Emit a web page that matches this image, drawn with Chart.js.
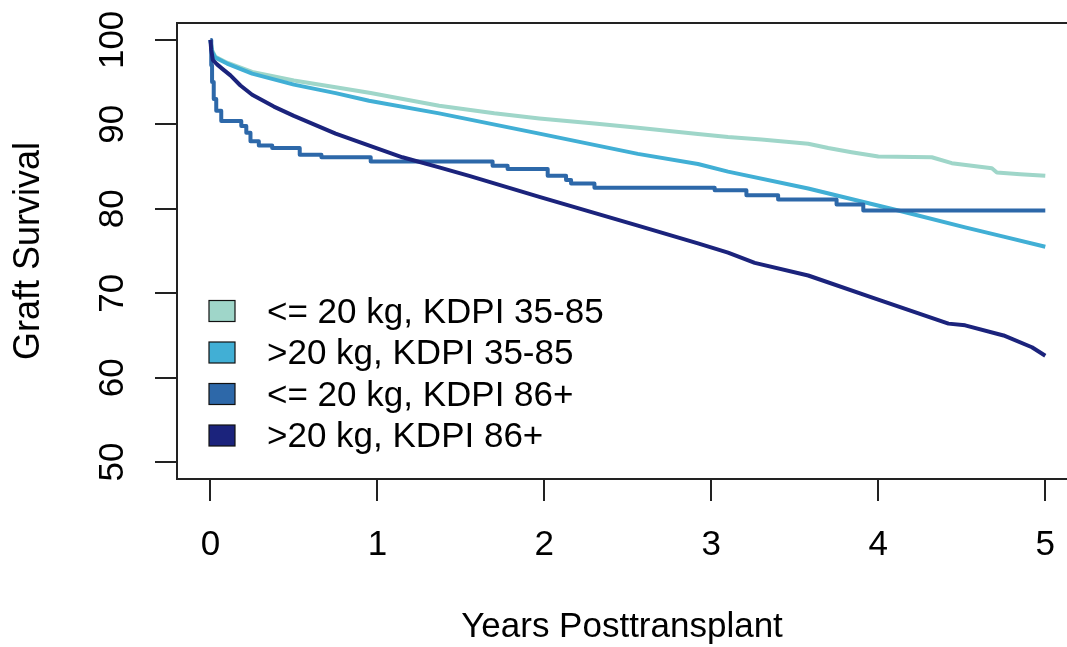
<!DOCTYPE html>
<html>
<head>
<meta charset="utf-8">
<script src="https://cdn.jsdelivr.net/npm/chart.js@4.4.1/dist/chart.umd.min.js"></script>
<style>
  body { margin: 0; background: #fff; overflow: hidden; }
  canvas { display: block; }
</style>
</head>
<body>
<canvas id="km" width="1067" height="647"></canvas>
<script>
// Graft survival curves (years, percent)
const groupNames = ["<= 20 kg, KDPI 35-85", ">20 kg, KDPI 35-85", "<= 20 kg, KDPI 86+", ">20 kg, KDPI 86+"];
const groupColors = ["#9fd6c9", "#41afd5", "#2d68a9", "#1b237c"];

const lightYears = [0, 0.01, 0.03, 0.1, 0.25, 0.5, 0.75, 0.96, 1.37, 1.7, 1.97, 2.3, 2.56, 2.92, 3.1, 3.3, 3.58, 3.7, 3.84, 4.0, 4.32, 4.44, 4.68, 4.71, 4.85, 5.0];
const lightSurv  = [100, 98.8, 98.0, 97.3, 96.2, 95.2, 94.4, 93.7, 92.2, 91.3, 90.7, 90.1, 89.6, 88.85, 88.5, 88.2, 87.7, 87.2, 86.7, 86.2, 86.1, 85.4, 84.8, 84.3, 84.1, 83.9];

const midYears = [0, 0.01, 0.03, 0.1, 0.25, 0.5, 0.75, 0.95, 1.37, 1.97, 2.56, 2.92, 3.1, 3.58, 4.12, 4.52, 4.75, 5.0];
const midSurv  = [100, 98.6, 97.9, 97.2, 96.0, 94.7, 93.7, 92.8, 91.3, 88.9, 86.5, 85.3, 84.4, 82.4, 79.8, 77.8, 76.7, 75.5];

// this one is drawn as steps
const stepYears = [0, 0.005, 0.01, 0.02, 0.035, 0.065, 0.185, 0.215, 0.24, 0.29, 0.37, 0.535, 0.665, 0.96, 1.69, 1.78, 2.02, 2.13, 2.16, 2.3, 3.02, 3.21, 3.4, 3.75, 3.91, 5.0];
const stepSurv  = [100, 97, 95, 93, 91.6, 90.4, 89.8, 89.0, 88.0, 87.5, 87.2, 86.4, 86.1, 85.6, 85.1, 84.7, 83.9, 83.4, 83.0, 82.5, 82.2, 81.6, 81.1, 80.5, 79.8, 79.8];

const darkYears = [0, 0.005, 0.015, 0.04, 0.07, 0.12, 0.18, 0.25, 0.38, 0.5, 0.75, 1.15, 1.37, 1.55, 1.97, 2.56, 2.92, 3.1, 3.26, 3.58, 3.96, 4.42, 4.52, 4.75, 4.92, 5.0];
const darkSurv  = [100, 98.8, 97.6, 97.1, 96.6, 95.8, 94.6, 93.5, 92.1, 91.0, 88.9, 86.1, 84.9, 83.9, 81.4, 78.0, 75.9, 74.8, 73.6, 72.1, 69.5, 66.4, 66.2, 65.0, 63.6, 62.6];

const xTicks = [0, 1, 2, 3, 4, 5];
const yTicks = [50, 60, 70, 80, 90, 100];

function pairs(xs, ys) {
    return xs.map(function(x, i) { return { x: x, y: ys[i] }; });
}

const font = "'Liberation Sans', Arial, sans-serif";
const ink = "#222";

// top edge of the box (R draws a full box; right side is cropped)
const boxTop = {
    id: "boxTop",
    afterDraw(chart) {
        const ctx = chart.ctx;
        const a = chart.chartArea;
        ctx.save();
        ctx.strokeStyle = ink;
        ctx.lineWidth = 2;
        ctx.beginPath();
        ctx.moveTo(a.left - 1, a.top);
        ctx.lineTo(chart.width, a.top);
        ctx.stroke();
        ctx.restore();
    }
};

// R style legend with filled squares, bottom left inside the plot
const boxLegend = {
    id: "boxLegend",
    afterDraw(chart) {
        const ctx = chart.ctx;
        const rows = [311, 352.5, 394, 435.5];
        ctx.save();
        ctx.font = "35px " + font;
        ctx.textBaseline = "middle";
        chart.data.datasets.forEach(function(ds, i) {
            const y = rows[i];
            ctx.fillStyle = ds.borderColor;
            ctx.fillRect(209, y - 10.5, 26, 21);
            ctx.strokeStyle = "#111";
            ctx.lineWidth = 1.2;
            ctx.strokeRect(209, y - 10.5, 26, 21);
            ctx.fillStyle = "#000";
            ctx.fillText(ds.label, 267, y + 2);
        });
        ctx.restore();
    }
};

const seriesData = [
    pairs(lightYears, lightSurv),
    pairs(midYears, midSurv),
    pairs(stepYears, stepSurv),
    pairs(darkYears, darkSurv)
];

new Chart(document.getElementById("km"), {
    type: "line",
    data: {
        datasets: groupNames.map(function(name, i) {
            return {
                label: name,
                data: seriesData[i],
                borderColor: groupColors[i],
                backgroundColor: groupColors[i],
                borderWidth: 4,
                pointRadius: 0,
                tension: 0,
                borderJoinStyle: "round",
                stepped: i === 2 ? "before" : false,
                order: 4 - i
            };
        })
    },
    options: {
        responsive: false,
        devicePixelRatio: 1,
        animation: false,
        layout: { padding: { top: 23, left: 0, right: 0, bottom: 0 } },
        plugins: {
            legend: { display: false },
            tooltip: { enabled: false }
        },
        scales: {
            x: {
                type: "linear",
                min: -0.2,
                max: 5.13,
                afterBuildTicks: function(scale) {
                    scale.ticks = xTicks.map(function(v) { return { value: v }; });
                },
                afterFit: function(scale) {
                    scale.height = 168;
                    scale.paddingLeft = 0;
                    scale.paddingRight = 0;
                },
                grid: { drawOnChartArea: false, drawTicks: true, tickLength: 22, tickColor: ink, lineWidth: 2 },
                border: { display: true, color: ink, width: 2 },
                ticks: { color: "#000", font: { family: font, size: 35 }, padding: 23, maxRotation: 0 },
                title: {
                    display: true,
                    text: "Years Posttransplant",
                    color: "#000",
                    font: { family: font, size: 35, lineHeight: 1 },
                    padding: { top: 0, bottom: 2 }
                }
            },
            y: {
                type: "linear",
                min: 48,
                max: 102,
                afterBuildTicks: function(scale) {
                    scale.ticks = yTicks.map(function(v) { return { value: v }; });
                },
                afterFit: function(scale) {
                    scale.width = 177;
                    scale.paddingTop = 0;
                    scale.paddingBottom = 0;
                },
                grid: { drawOnChartArea: false, drawTicks: true, tickLength: 22, tickColor: ink, lineWidth: 2 },
                border: { display: true, color: ink, width: 2 },
                ticks: { color: "#000", font: { family: font, size: 35 }, padding: 12, minRotation: 90, maxRotation: 90, crossAlign: "center" },
                title: {
                    display: true,
                    text: "Graft Survival",
                    color: "#000",
                    font: { family: font, size: 36, lineHeight: 1 },
                    padding: { top: 11, bottom: 0 }
                }
            }
        }
    },
    plugins: [boxTop, boxLegend]
});
</script>
</body>
</html>
